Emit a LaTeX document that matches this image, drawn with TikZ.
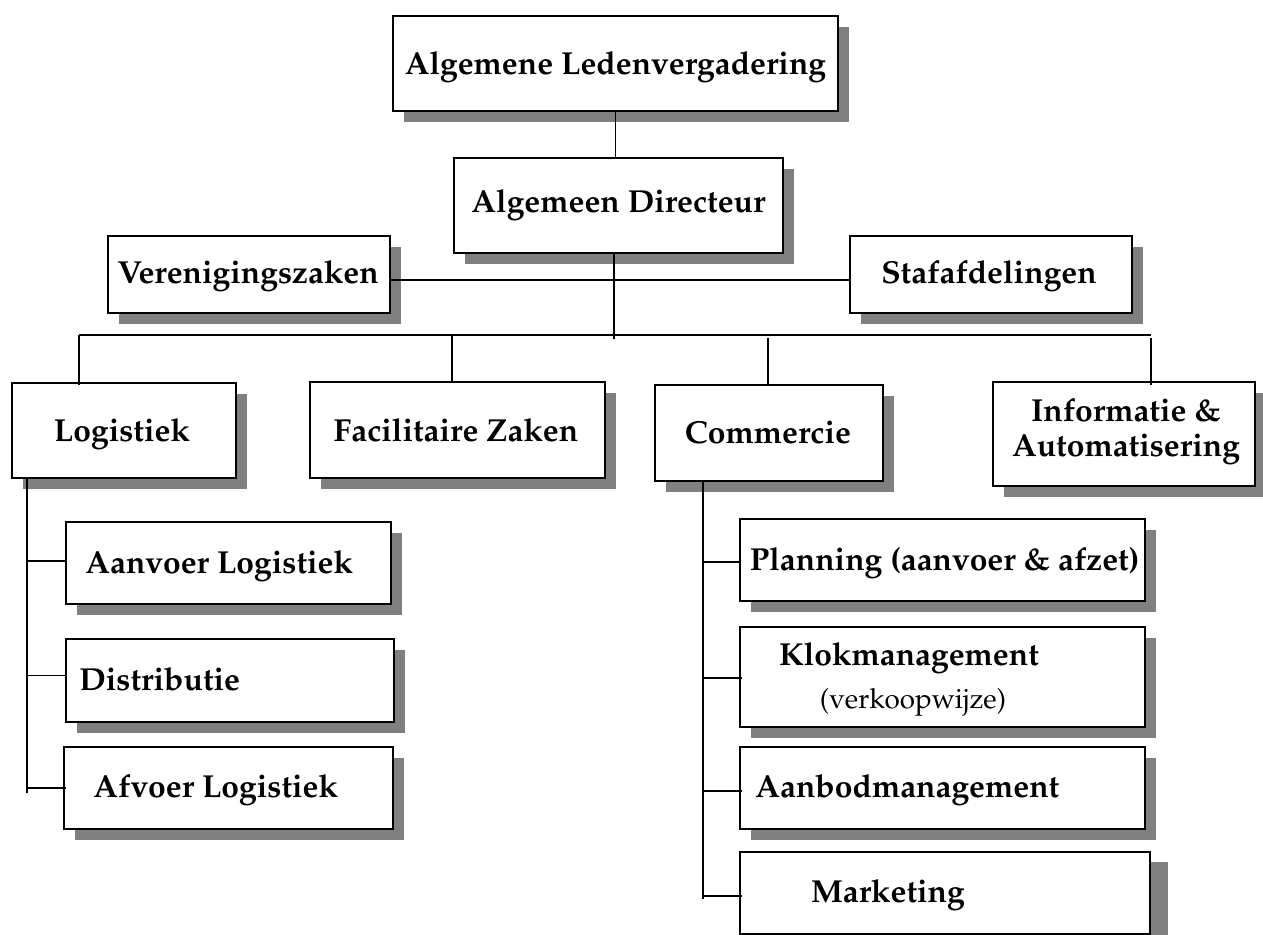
\documentclass[tikz,border=0pt]{standalone}
\usepackage[T1]{fontenc}
\usepackage{mathpazo}
\usetikzlibrary{shadows,calc}
\definecolor{shadowgray}{HTML}{808080}
\tikzset{
  orgbox/.style={draw=black, line width=1pt, fill=white, inner sep=0pt,
    drop shadow={shadow xshift=5.5pt, shadow yshift=-5.5pt, fill=shadowgray, opacity=1}},
  wh/.style 2 args={minimum width=#1*0.5pt, minimum height=#2*0.5pt},
  lbl/.style={font=\bfseries\fontsize{15.9}{19}\selectfont, anchor=base, inner sep=0pt},
  lblw/.style={lbl, anchor=base west},
  sublbl/.style={font=\fontsize{13.9}{16}\selectfont, anchor=base, inner sep=0pt},
  wire/.style={line width=0.8pt},
  busline/.style={line width=1pt}
}
\begin{document}
\begin{tikzpicture}[x=0.5pt, y=-0.5pt]
  \useasboundingbox[fill=white] (0,0) rectangle (1263,935);

  % boxes
  \node[orgbox, wh={445}{95}]  (alv)  at (615.5,63.5) {};
  \node[orgbox, wh={329}{95}]  (ad)   at (618.5,205.5) {};
  \node[orgbox, wh={282}{77}]  (ver)  at (249,274.5) {};
  \node[orgbox, wh={282}{77}]  (staf) at (991,274.5) {};
  \node[orgbox, wh={224}{95}]  (log)  at (124,430.5) {};
  \node[orgbox, wh={295}{96}]  (fac)  at (457.5,430) {};
  \node[orgbox, wh={228}{96}]  (com)  at (769,433) {};
  \node[orgbox, wh={262}{104}] (info) at (1124,434) {};
  \node[orgbox, wh={325}{82}]  (aan)  at (228.5,563) {};
  \node[orgbox, wh={328}{83}]  (dis)  at (230,680.5) {};
  \node[orgbox, wh={329}{82}]  (afv)  at (228.5,788) {};
  \node[orgbox, wh={405}{82}]  (pla)  at (942.5,560) {};
  \node[orgbox, wh={405}{100}] (klo)  at (942.5,677) {};
  \node[orgbox, wh={405}{82}]  (aab)  at (942.5,788) {};
  \node[orgbox, wh={409.5}{82}, drop shadow={shadow xshift=9pt, shadow yshift=-5pt, fill=shadowgray, opacity=1}] (mar) at (944.75,893) {};

  % labels
  \node[lbl]  (alv-t)  at (615.5,75)  {Algemene Ledenvergadering};
  \node[lbl]  (ad-t)   at (618.5,213) {Algemeen Directeur};
  \node[lbl]  (ver-t)  at (248,284)   {Verenigingszaken};
  \node[lbl]  (staf-t) at (989,284)   {Stafafdelingen};
  \node[lbl]  (log-t)  at (122,441)   {Logistiek};
  \node[lbl]  (fac-t)  at (456,441)   {Facilitaire Zaken};
  \node[lbl]  (com-t)  at (768,444)   {Commercie};
  \node[lbl]  (info-t1) at (1126,421.7) {Informatie \&};
  \node[lbl]  (info-t2) at (1126,456.7) {Automatisering};
  \node[lblw] (aan-t)  at (85,573)    {Aanvoer Logistiek};
  \node[lblw] (dis-t)  at (79,690.7)  {Distributie};
  \node[lblw] (afv-t)  at (93,797.7)  {Afvoer Logistiek};
  \node[lblw] (pla-t)  at (749.5,570.7) {Planning (aanvoer \& afzet)};
  \node[lbl]  (klo-t)  at (909,665.7) {Klokmanagement};
  \node[sublbl] (klo-s) at (913,708)  {(verkoopwijze)};
  \node[lblw] (aab-t)  at (755,797.7) {Aanbodmanagement};
  \node[lbl]  (mar-t)  at (888,902.7) {Marketing};

  % junction points
  \coordinate (hub)  at (614,339);
  \coordinate (mid)  at (614,280.5);
  \coordinate (busL) at (79,335.5);
  \coordinate (busR) at (1151,335.5);
  \coordinate (dFac) at (452,335.5);
  \coordinate (dCom) at (768,338);
  \coordinate (dInf) at (1151,338);
  \coordinate (logS) at (27,793);
  \coordinate (comS) at (703,899);

  % top of the chart
  \draw[wire] (alv.south) -- (alv.south |- ad.north);
  \draw[wire] (hub |- ad.south) -- (hub);
  \draw[busline] (ver.east |- mid) -- (staf.west |- mid);

  % department bus and drops
  \draw[busline] (busL) -- (busR);
  \draw[wire] (busL) -- ($(busL |- log.north)+(0,3)$);
  \draw[wire] (dFac) -- (dFac |- fac.north);
  \draw[wire] (dCom) -- ($(dCom |- com.north)+(0,1)$);
  \draw[wire] (dInf) -- ($(dInf |- info.north)+(0,4)$);

  % Logistiek sub-units
  \draw[wire] (logS |- log.south) -- (logS);
  \draw[wire] ($(logS |- aan.west)+(0,-2)$) -- ($(aan.west)+(0,-2)$);
  \draw[wire] ($(logS |- dis.west)+(0,-5)$) -- ($(dis.west)+(0,-5)$);
  \draw[wire] (logS |- afv.west) -- ($(afv.west)+(3,0)$);

  % Commercie sub-units
  \draw[wire] (comS |- com.south) -- (comS);
  \draw[wire] ($(comS |- pla.west)+(0,2)$) -- ($(pla.west)+(2,2)$);
  \draw[wire] ($(comS |- klo.west)+(0,1)$) -- ($(klo.west)+(3,1)$);
  \draw[wire] ($(comS |- aab.west)+(0,3)$) -- ($(aab.west)+(3,3)$);
  \draw[wire] ($(comS |- mar.west)+(0,3)$) -- ($(mar.west)+(3,3)$);
\end{tikzpicture}
\end{document}
